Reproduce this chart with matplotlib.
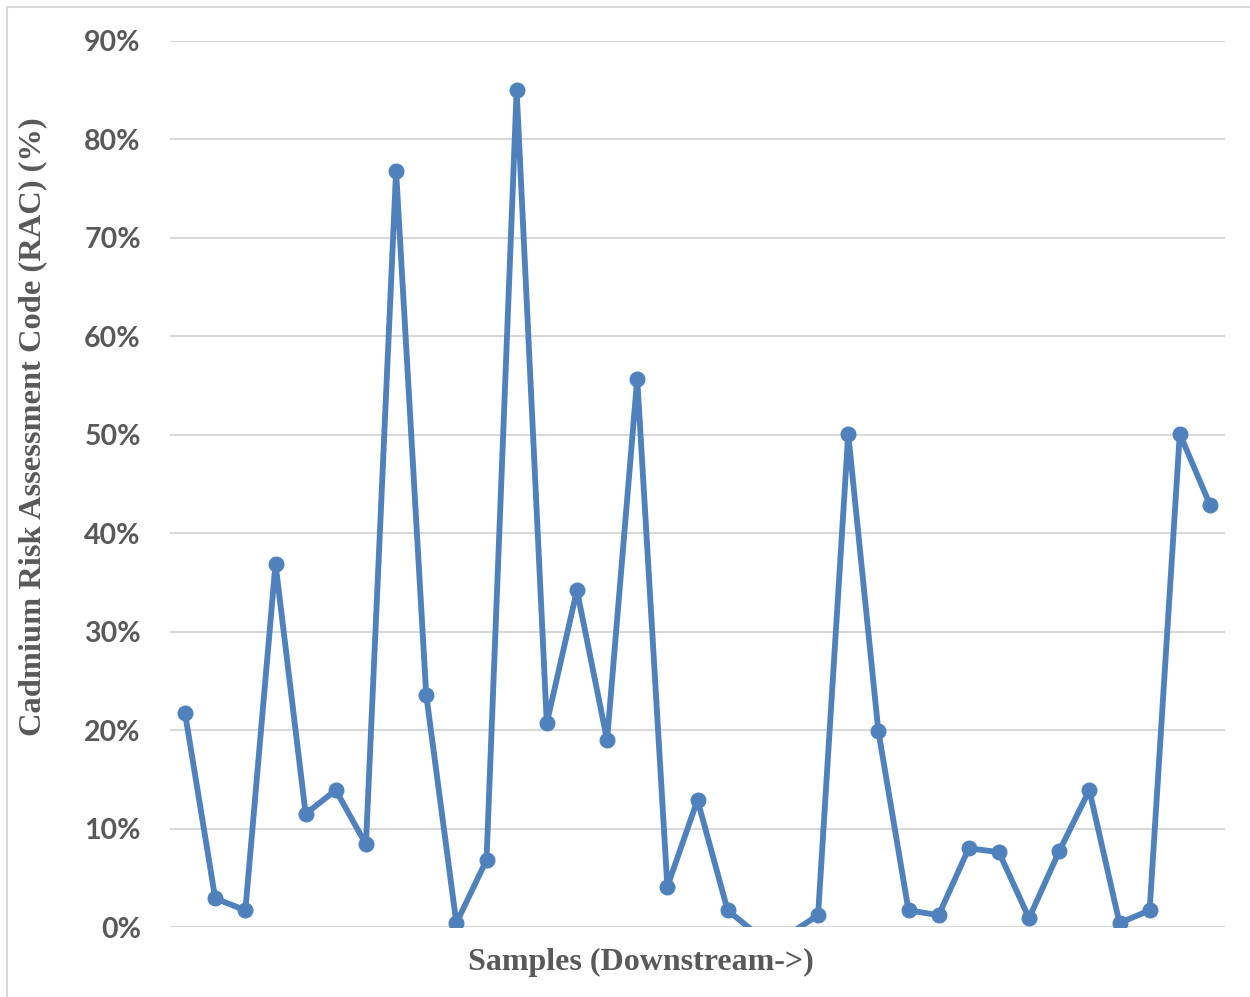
import matplotlib.pyplot as plt
import numpy as np
from matplotlib.lines import Line2D
from matplotlib.ticker import FuncFormatter

# RAC (%) per sample, upstream -> downstream; two samples fall below 0 and are clipped
rac = [21.7, 2.9, 1.7, 36.9, 11.5, 13.9, 8.4, 76.8, 23.6, 0.4,
       6.8, 85.0, 20.7, 34.2, 19.0, 55.7, 4.1, 12.9, 1.7, -0.8,
       -0.8, 1.2, 50.1, 19.9, 1.7, 1.2, 8.0, 7.6, 0.9, 7.7,
       13.9, 0.4, 1.7, 50.1, 42.9]
yticks = [0, 10, 20, 30, 40, 50, 60, 70, 80, 90]

line_color = "#4F81BD"
grid_color = "#D9D9D9"
text_color = "#595959"

fig = plt.figure(figsize=(12.5, 9.97), dpi=100)
ax = fig.add_axes([0.136, 0.0702, 0.844, 0.8887])

x = np.arange(len(rac))
vals = np.array(rac)
ax.plot(x, vals, color=line_color, linewidth=4.2, solid_capstyle="butt", zorder=3)
shown = vals >= 0
ax.plot(x[shown], vals[shown], linestyle="none", marker="o", markersize=10.5,
        color=line_color, zorder=4)

ax.set_xlim(-0.5, len(rac) - 0.5)
ax.set_ylim(0, 90)
ax.set_yticks(yticks)
ax.yaxis.set_major_formatter(FuncFormatter(lambda v, p: f"{v:.0f}%"))
ax.set_xticks([])
ax.grid(axis="y", color=grid_color, linewidth=1.5, zorder=0)
for s in ax.spines.values():
    s.set_visible(False)
ax.tick_params(axis="y", length=0, pad=21, labelsize=20.5, labelcolor=text_color)
for lab in ax.get_yticklabels():
    lab.set_fontfamily("Lato")
    lab.set_fontweight("bold")

fig.text(0.026, 1 - 427 / 997, "Cadmium Risk Assessment Code (RAC) (%)",
         rotation=90, ha="center", va="center", fontsize=23.4,
         fontfamily="Liberation Serif", fontweight="bold", color=text_color)
fig.text(641 / 1250, 1 - 962 / 997, "Samples (Downstream->)",
         ha="center", va="center", fontsize=23,
         fontfamily="Liberation Serif", fontweight="bold", color=text_color)

# chart-area border (top and left only visible)
fig.add_artist(Line2D([7 / 1250, 7 / 1250], [0, 1 - 7 / 997], transform=fig.transFigure,
                      color=grid_color, linewidth=1.5))
fig.add_artist(Line2D([7 / 1250, 1], [1 - 7 / 997, 1 - 7 / 997], transform=fig.transFigure,
                      color=grid_color, linewidth=1.5))

fig.savefig("out.png", dpi=100)
